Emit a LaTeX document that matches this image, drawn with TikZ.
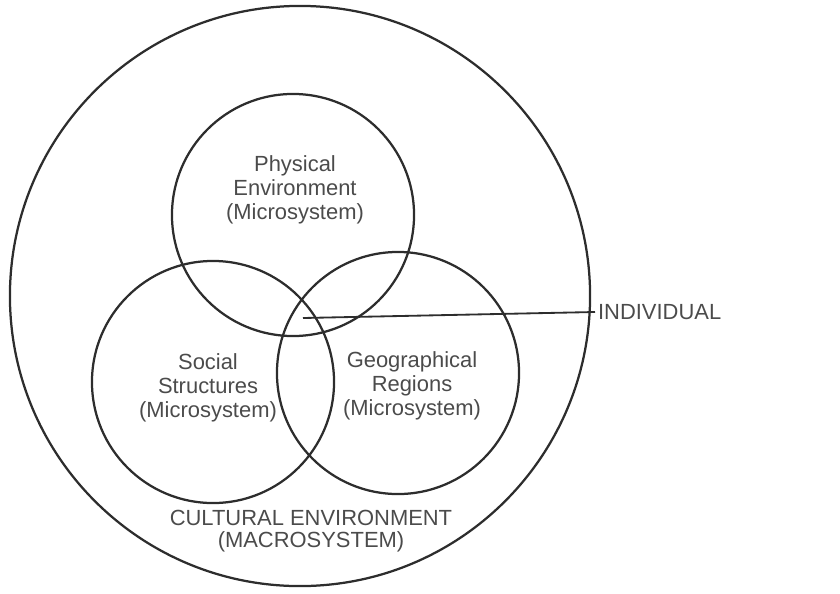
\documentclass[tikz,border=0pt]{standalone}
\usepackage{fontspec}
\setmainfont{Liberation Sans}
\usetikzlibrary{positioning}
\definecolor{ringcol}{RGB}{45,45,45}
\definecolor{txtcol}{RGB}{75,75,75}

\begin{document}
\begin{tikzpicture}[x=0.025cm, y=-0.025cm,
  ring/.style={circle, draw=ringcol, line width=1.6pt, inner sep=0pt, minimum size=#1},
  lbl/.style={font=\fontsize{15.6}{17}\selectfont, text=txtcol, align=center, inner sep=0pt},
]
\useasboundingbox (0,0) rectangle (840,593);
\def\dsmall{6.05cm}

\node[ring=14.5cm]    (macro) at (300,296) {};
\node[ring=\dsmall]   (phys)  at (293,215) {};
\node[ring=\dsmall]   (soc)   at (213,382) {};
\node[ring=\dsmall]   (geo)   at (398,373) {};

\node[lbl] (physlbl) at (295,190) {Physical\\Environment\\(Microsystem)};
\node[lbl] (soclbl)  at (208,388) {Social\\Structures\\(Microsystem)};
\node[lbl] (geolbl)  at (412,386) {Geographical\\Regions\\(Microsystem)};
\node[lbl, font=\fontsize{15.6}{15.5}\selectfont] (macrolbl) at (311,531) {CULTURAL ENVIRONMENT\\(MACROSYSTEM)};
\node[lbl, anchor=west, inner xsep=2pt] (indiv) at (595,312) {INDIVIDUAL};

\coordinate (self) at (303,318);
\draw[ringcol, line width=1.3pt] (self) -- (indiv.west);
\end{tikzpicture}
\end{document}
